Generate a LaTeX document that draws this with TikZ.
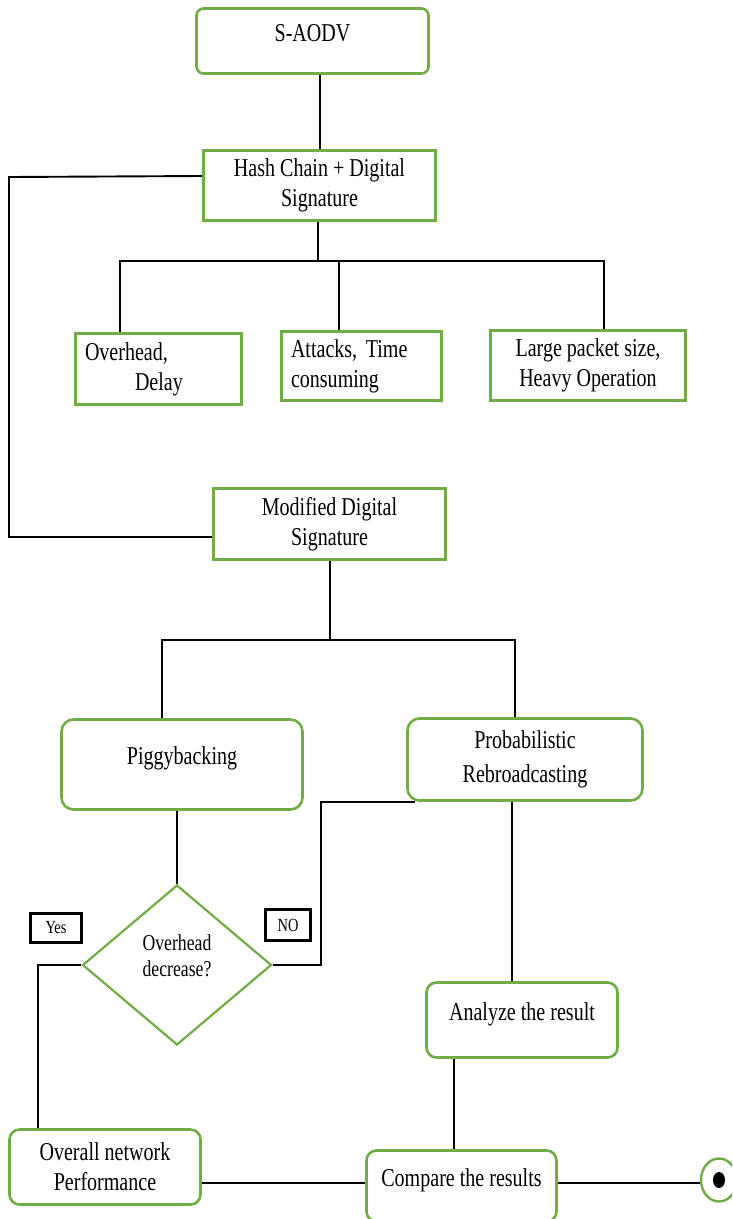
\documentclass[tikz,border=0pt]{standalone}
\usepackage{fontspec}
\setmainfont{Liberation Serif}[FakeStretch=0.78]
\usetikzlibrary{shapes.geometric}
\definecolor{boxgreen}{RGB}{112,173,71}
\newcommand\fsmain{\fontsize{25.7}{30}\selectfont}
\newcommand\fsdia{\fontsize{22.7}{26}\selectfont}
\newcommand\fstag{\fontsize{18.5}{22}\selectfont}
\frenchspacing
\begin{document}
\begin{tikzpicture}[x=1pt,y=-1pt,
  box/.style={draw=boxgreen, line width=2.6pt, fill=white, inner sep=0pt, align=center, font=\fsmain},
  rbox/.style={box, rounded corners=10pt},
  upper/.style={text height=12pt, text depth=12pt},
  conn/.style={draw=black, line width=1.9pt},
  thickconn/.style={draw=black, line width=2.6pt},
  tagbox/.style={draw=black, line width=2.6pt, inner sep=0pt, font=\fstag}]
\useasboundingbox (0,0) rectangle (732,1219);
\clip (0,0) rectangle (732,1219);
\fill[white] (0,0) rectangle (732,1219);

% nodes
\node[box, rounded corners=7pt, upper, minimum width=232pt, minimum height=65pt] (saodv) at (312.5,41) {S-AODV};
\node[box, minimum width=232pt, minimum height=70pt] (hash) at (319.5,185.5) {Hash Chain + Digital\\Signature};
\node[box, minimum width=166pt, minimum height=71pt, text width=147pt, align=left] (b1) at (158.5,369) {Overhead,\\\hspace*{50pt}Delay};
\node[box, minimum width=160pt, minimum height=69pt, text width=141pt, align=left] (b2) at (361.5,366) {Attacks, Time\\consuming};
\node[box, minimum width=195pt, minimum height=70pt] (b3) at (588,365.5) {Large packet size,\\Heavy Operation};
\node[box, minimum width=232pt, minimum height=71pt] (mod) at (329.5,524) {Modified Digital\\Signature};
\node[rbox, rounded corners=12pt, upper, minimum width=241pt, minimum height=90pt] (piggy) at (182,764.5) {Piggybacking};
\node[rbox, rounded corners=12pt, minimum width=235pt, minimum height=82pt] (prob) at (525,759.5) {Probabilistic\\[4pt]Rebroadcasting};
\node[diamond, draw=boxgreen, line width=2.2pt, fill=white, inner sep=0pt, minimum width=189pt, minimum height=160pt, font=\fsdia, text height=10pt, text depth=13pt] (dia) at (177,965) {\begin{tabular}{@{}c@{}}Overhead\\decrease?\end{tabular}};
\node[tagbox, minimum width=51pt, minimum height=29pt] (yes) at (56,928) {Yes};
\node[tagbox, minimum width=45pt, minimum height=31pt] (no) at (288,925) {NO};
\node[rbox, upper, minimum width=191pt, minimum height=75pt] (analyze) at (522,1020) {Analyze the result};
\node[rbox, minimum width=191pt, minimum height=75pt] (overall) at (105,1167) {Overall network\\Performance};
\node[rbox, upper, minimum width=190pt, minimum height=71pt] (compare) at (461.5,1186) {Compare the results};
\node[ellipse, draw=boxgreen, line width=2.4pt, fill=white, inner sep=0pt, minimum width=36pt, minimum height=43pt] (end) at (719,1180) {};
\fill[black] (end.center) ellipse [x radius=6pt, y radius=8pt];

% connectors
\draw[conn] ([xshift=7.5pt]saodv.south) -- ([xshift=0.5pt]hash.north);
\draw[conn] ([xshift=-1.5pt]hash.south) -- (318,261);
\draw[conn] ([xshift=-38.5pt]b1.north) -- (120,261) -- (604,261) -- ([xshift=16pt]b3.north);
\draw[conn] ([xshift=-22.5pt]b2.north) -- (339,261);
\draw[conn] ([yshift=9.5pt]hash.west) -- (9,177) -- (9,537) -- ([yshift=-13pt]mod.west);
\draw[conn] ([xshift=0.5pt]mod.south) -- (330,640);
\draw[conn] ([xshift=-20pt]piggy.north) -- (162,640) -- (515,640) -- ([xshift=-10pt]prob.north);
\draw[conn] (piggy.south -| dia.north) -- (dia.north);
\draw[conn] (dia.west) -| ([xshift=-67pt]overall.north);
\draw[conn] (dia.east) -| ([xshift=-85pt]prob.south west) -- ([xshift=9pt]prob.south west);
\path ([xshift=-13pt]prob.south) coordinate (p1);
\draw[conn] (p1) -- (p1 |- analyze.north);
\path ([xshift=-68pt]analyze.south) coordinate (a1);
\draw[conn] (a1) -- (a1 |- compare.north);
\draw[conn] ([yshift=-16pt]overall.east) -- ([yshift=-16pt]overall.east -| compare.west);
\draw[thickconn] ([yshift=3pt]compare.east) -- ([yshift=3pt]compare.east -| end.west);
\end{tikzpicture}
\end{document}
